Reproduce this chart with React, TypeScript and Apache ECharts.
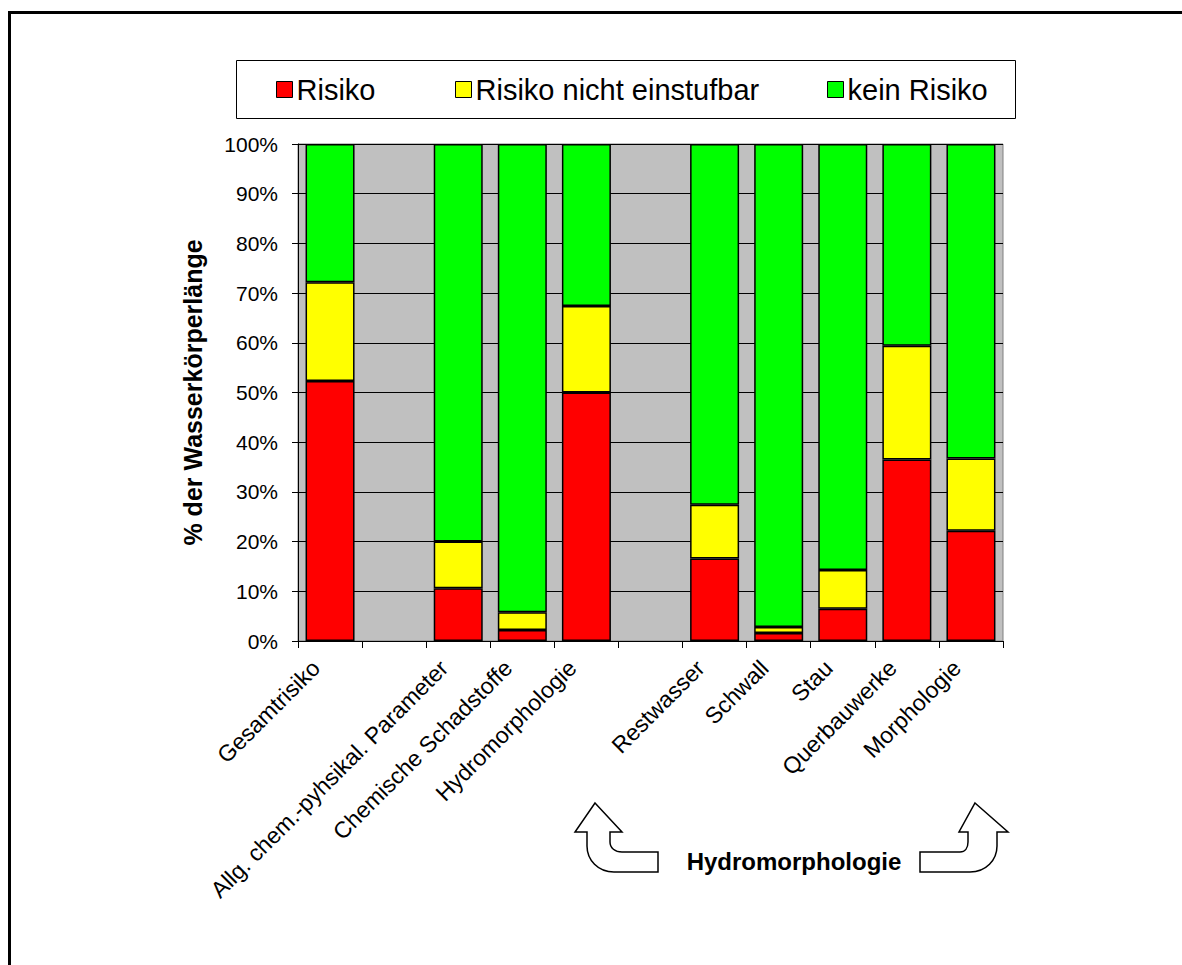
import React, { useEffect, useRef } from "react";
import * as echarts from "echarts";

const categories = [
  "Gesamtrisiko",
  "",
  "Allg. chem.-pyhsikal. Parameter",
  "Chemische Schadstoffe",
  "Hydromorphologie",
  " ",
  "Restwasser",
  "Schwall",
  "Stau",
  "Querbauwerke",
  "Morphologie",
];
const risiko = [52.3, null, 10.6, 2.2, 50.0, null, 16.6, 1.6, 6.5, 36.5, 22.2];
const nichtEinstufbar = [19.9, null, 9.4, 3.6, 17.4, null, 10.8, 1.2, 7.8, 22.9, 14.5];
const keinRisiko = [27.8, null, 80.0, 94.2, 32.6, null, 72.6, 97.2, 85.7, 40.6, 63.3];
const seriesNames = ["Risiko", "Risiko nicht einstufbar", "kein Risiko"];
const seriesColors = ["#FF0000", "#FFFF00", "#00FF00"];
const yTicks = [0, 10, 20, 30, 40, 50, 60, 70, 80, 90, 100];

const FONT = "Arial, 'Liberation Sans', sans-serif";

const leftArrowPath =
  "M595,803 L622,832 L610,832 L610,842 C610,848 615,852 622,852 L658,852 L658,872 L614,872 C598,872 587,860 587,846 L587,832 L575,832 Z";
const rightArrowPath =
  "M975,803 L1008,832 L997,832 L997,846 C997,860 986,872 970,872 L920,872 L920,852 L960,852 C965,852 968,848 968,842 L968,832 L959,832 Z";

let registered = false;
function registerShapes() {
  if (registered) return;
  registered = true;
  echarts.graphic.registerShape("uturnLeft", echarts.graphic.extendPath(leftArrowPath, {}) as any);
  echarts.graphic.registerShape("uturnRight", echarts.graphic.extendPath(rightArrowPath, {}) as any);
}

export default function App() {
  const ref = useRef<HTMLDivElement>(null);
  useEffect(() => {
    document.body.style.margin = "0";
    registerShapes();
    const chart = echarts.init(ref.current!, undefined, { renderer: "svg" });
    const dataSets = [risiko, nichtEinstufbar, keinRisiko];
    const legendLefts = [276, 455, 827];
    const option: any = {
      animation: false,
      backgroundColor: "#FFFFFF",
      textStyle: { fontFamily: FONT },
      legend: seriesNames.map((n, i) => ({
        data: [n],
        left: legendLefts[i],
        top: 75,
        padding: 0,
        icon: "rect",
        itemWidth: 16,
        itemHeight: 16,
        itemStyle: { borderColor: "#000", borderWidth: 1 },
        textStyle: { fontSize: 29, color: "#000", fontFamily: FONT, padding: [0, 0, 0, -1] },
        selectedMode: false,
      })),
      grid: {
        left: 298,
        top: 144,
        width: 705,
        height: 497,
        show: true,
        backgroundColor: "#C0C0C0",
        borderColor: "#808080",
        borderWidth: 1,
      },
      xAxis: {
        type: "category",
        data: categories,
        axisLine: { lineStyle: { color: "#000", width: 1 } },
        axisTick: { show: true, length: 7, lineStyle: { color: "#000" } },
        axisLabel: {
          interval: 0,
          rotate: 45,
          fontSize: 23,
          color: "#000",
          fontFamily: FONT,
          margin: 9,
          padding: [0, 20, 0, 0],
        },
      },
      yAxis: {
        type: "value",
        min: yTicks[0],
        max: yTicks[yTicks.length - 1],
        interval: 10,
        name: "% der Wasserkörperlänge",
        nameLocation: "middle",
        nameGap: 93,
        nameTextStyle: { fontSize: 25, fontWeight: "bold", color: "#000", fontFamily: FONT },
        axisLine: { show: true, lineStyle: { color: "#000", width: 1 } },
        axisTick: { show: true, length: 6, lineStyle: { color: "#000" } },
        axisLabel: { formatter: "{value}%", fontSize: 21, color: "#000", fontFamily: FONT, margin: 20 },
        splitLine: { show: true, lineStyle: { color: "#000", width: 1 } },
      },
      series: seriesNames.map((n, i) => ({
        name: n,
        type: "bar",
        stack: "total",
        barWidth: 49,
        data: dataSets[i],
        itemStyle: { color: seriesColors[i], borderColor: "#000", borderWidth: 1.5 },
      })),
      graphic: [
        {
          type: "rect",
          shape: { x: 9.5, y: 12.5, width: 1300, height: 1100 },
          style: { fill: "none", stroke: "#000", lineWidth: 3 },
          silent: true,
        },
        {
          type: "rect",
          shape: { x: 236.5, y: 60.5, width: 779, height: 58 },
          style: { fill: "none", stroke: "#000", lineWidth: 1 },
          silent: true,
        },
        {
          type: "uturnLeft",
          x: 0,
          y: 0,
          style: { fill: "#FFFFFF", stroke: "#000", lineWidth: 1.5 },
        },
        {
          type: "uturnRight",
          x: 0,
          y: 0,
          style: { fill: "#FFFFFF", stroke: "#000", lineWidth: 1.5 },
        },
        {
          type: "text",
          x: 794,
          y: 861,
          style: {
            text: "Hydromorphologie",
            font: "bold 24px " + FONT,
            fill: "#000",
            align: "center",
            verticalAlign: "middle",
          },
        },
      ],
    };
    chart.setOption(option);
    return () => chart.dispose();
  }, []);
  return <div ref={ref} style={{ width: 1182, height: 965 }} />;
}
